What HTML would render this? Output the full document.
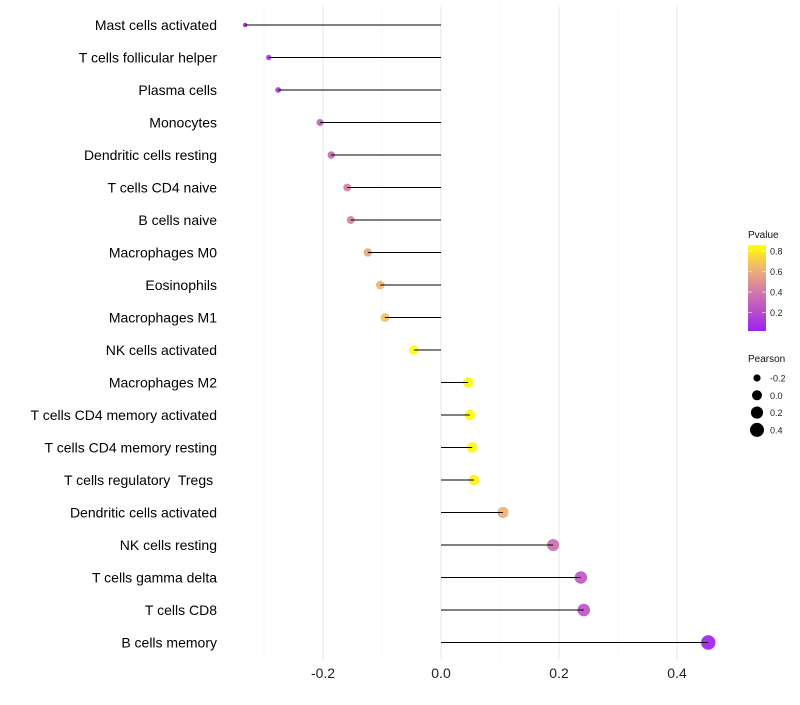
<!DOCTYPE html>
<html><head><meta charset="utf-8"><style>
body{margin:0;background:#fff;}
svg{font-family:"Liberation Sans",sans-serif;}
text{white-space:pre;}
</style></head><body>
<svg id="chart" width="800" height="700"></svg>
<script>
const categories=["Mast cells activated","T cells follicular helper","Plasma cells","Monocytes","Dendritic cells resting","T cells CD4 naive","B cells naive","Macrophages M0","Eosinophils","Macrophages M1","NK cells activated","Macrophages M2","T cells CD4 memory activated","T cells CD4 memory resting","T cells regulatory  Tregs ","Dendritic cells activated","NK cells resting","T cells gamma delta","T cells CD8","B cells memory"];
const pearson=[-0.332,-0.292,-0.276,-0.205,-0.186,-0.159,-0.153,-0.124,-0.103,-0.095,-0.046,0.046,0.049,0.053,0.056,0.105,0.19,0.237,0.242,0.453];
const pvalues=[0.08,0.12,0.14,0.3,0.32,0.42,0.44,0.58,0.64,0.68,0.85,0.84,0.85,0.84,0.82,0.62,0.36,0.26,0.25,0.03];
const xTicks=[-0.2,0,0.2,0.4];
const xTickLabels=["-0.2","0.0","0.2","0.4"];
const xMinor=[-0.3,-0.1,0.1,0.3];
const legendP=[0.2,0.4,0.6,0.8];
const legendPearson=[-0.2,0.0,0.2,0.4];

const NS="http://www.w3.org/2000/svg";
const svg=document.getElementById('chart');
const X=v=>441+v*590;
const Y=i=>25+i*32.5;
const pMin=0.02,pMax=0.86;
function lerp(a,b,t){return a.map((x,i)=>Math.round(x+(b[i]-x)*t));}
const stops=[[0,[160,32,240]],[0.5,[214,130,160]],[0.75,[242,184,110]],[1,[255,255,0]]];
function color(p){let t=Math.max(0,Math.min(1,(p-pMin)/(pMax-pMin)));for(let k=1;k<stops.length;k++){if(t<=stops[k][0]){const a=stops[k-1],b=stops[k];const c=lerp(a[1],b[1],(t-a[0])/(b[0]-a[0]));return `rgb(${c})`;}}return 'rgb(255,255,0)';}
const R=v=>Math.sqrt(Math.max(1,5+(v+0.333)*60));
function el(tag,attrs,parent){const e=document.createElementNS(NS,tag);for(const k in attrs)e.setAttribute(k,attrs[k]);(parent||svg).appendChild(e);return e;}

const grid=el('g',{});


xMinor.forEach(v=>{el('line',{x1:X(v),x2:X(v),y1:5,y2:660,stroke:'#f2f2f2','stroke-width':0.6},grid);});
xTicks.forEach(v=>{el('line',{x1:X(v),x2:X(v),y1:5,y2:660,stroke:'#ebebeb','stroke-width':1.1},grid);});

xTicks.forEach((v,i)=>{const t=el('text',{x:X(v),y:678,'text-anchor':'middle','font-size':14,fill:'#222'});t.textContent=xTickLabels[i];

});

categories.forEach((c,i)=>{const t=el('text',{x:217,y:Y(i)+5,'text-anchor':'end','font-size':14,fill:'#000'});t.textContent=c;

});

categories.forEach((c,i)=>{
 const d=el('circle',{cx:X(pearson[i]),cy:Y(i),r:R(pearson[i]),fill:color(pvalues[i]),'fill-opacity':0.92});
 
 
 const l=el('line',{x1:X(0),x2:X(pearson[i]),y1:Y(i),y2:Y(i),stroke:'#000','stroke-width':1});
 
 
});

const lg=el('g',{});


el('text',{x:748,y:238,'font-size':10,fill:'#111'},lg).textContent='Pvalue';
const defs=el('defs',{});
const gr=el('linearGradient',{id:'pg',x1:0,y1:1,x2:0,y2:0},defs);
for(let k=0;k<=10;k++){const p=pMin+(pMax-pMin)*k/10;el('stop',{offset:k/10,'stop-color':color(p)},gr);}
el('rect',{x:748,y:245,width:18,height:86,fill:'url(#pg)'},lg);
const pY=p=>331-(p-pMin)/(pMax-pMin)*86;
legendP.forEach(p=>{el('line',{x1:748,x2:752,y1:pY(p),y2:pY(p),stroke:'#fff','stroke-opacity':0.6},lg);el('line',{x1:762,x2:766,y1:pY(p),y2:pY(p),stroke:'#fff','stroke-opacity':0.6},lg);
 el('text',{x:770,y:pY(p)+3.5,'font-size':9,fill:'#222'},lg).textContent=p.toFixed(1);});
el('text',{x:748,y:362,'font-size':10,fill:'#111'},lg).textContent='Pearson';
legendPearson.forEach((v,i)=>{const yy=378+i*17.3;el('circle',{cx:757,cy:yy,r:R(v),fill:'#000'},lg);
 el('text',{x:770,y:yy+3.5,'font-size':9,fill:'#222'},lg).textContent=v.toFixed(1);});
</script>
</body></html>
